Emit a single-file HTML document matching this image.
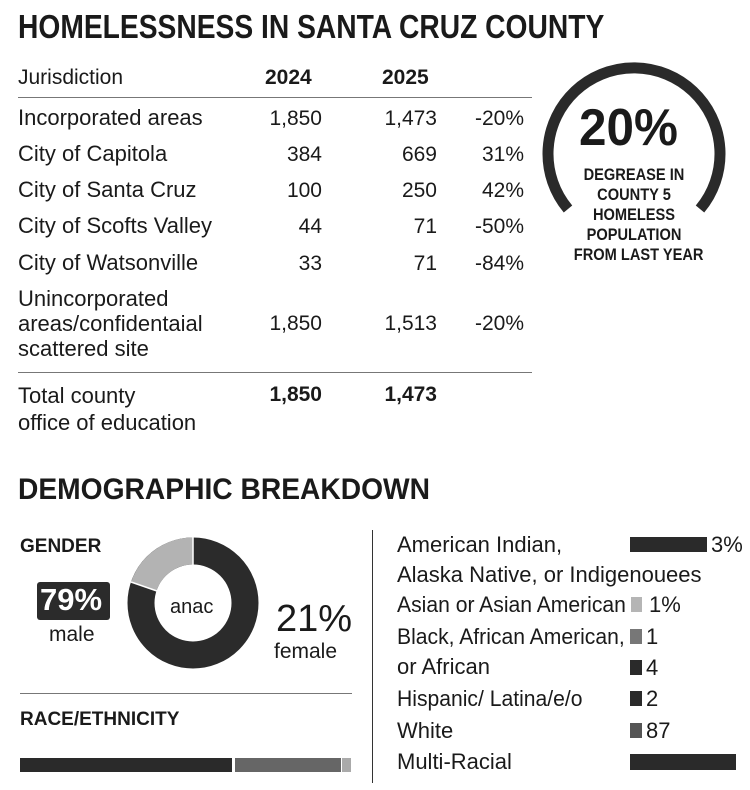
<!DOCTYPE html>
<html><head><meta charset="utf-8"><style>
body{margin:0;width:750px;height:790px;background:#fff;position:relative;overflow:hidden;font-family:"Liberation Sans",sans-serif;color:#1a1a1a}
.t{position:absolute;white-space:nowrap;line-height:1}
.h{font-family:"Liberation Sans Narrow","Liberation Sans",sans-serif;font-weight:bold}
.r{font-size:22px}
.n{position:absolute;font-size:21px;text-align:right;white-space:nowrap;line-height:1}
.b{position:absolute;background:#2a2a2a}
.s{transform:scaleX(0.96);transform-origin:0 0}
</style></head><body>
<div class="t h" style="left:18px;top:10px;font-size:33px;transform:scaleX(0.855);transform-origin:0 0">HOMELESSNESS IN SANTA CRUZ COUNTY</div>
<div class="t r" style="left:18px;top:67px;font-size:21px">Jurisdiction</div>
<div class="t r" style="left:265px;top:67px;font-weight:bold;font-size:21px">2024</div>
<div class="t r" style="left:382px;top:67px;font-weight:bold;font-size:21px">2025</div>
<div style="position:absolute;left:18px;top:97px;width:514px;height:1px;background:#777"></div>

<div class="t r" style="left:18px;top:107px">Incorporated areas</div>
<div class="n" style="right:428px;top:108px">1,850</div><div class="n" style="right:313px;top:108px">1,473</div><div class="n" style="right:226px;top:108px">-20%</div>
<div class="t r" style="left:18px;top:143px">City of Capitola</div>
<div class="n" style="right:428px;top:144px">384</div><div class="n" style="right:313px;top:144px">669</div><div class="n" style="right:226px;top:144px">31%</div>
<div class="t r" style="left:18px;top:179px">City of Santa Cruz</div>
<div class="n" style="right:428px;top:180px">100</div><div class="n" style="right:313px;top:180px">250</div><div class="n" style="right:226px;top:180px">42%</div>
<div class="t r" style="left:18px;top:215px">City of Scofts Valley</div>
<div class="n" style="right:428px;top:216px">44</div><div class="n" style="right:313px;top:216px">71</div><div class="n" style="right:226px;top:216px">-50%</div>
<div class="t r" style="left:18px;top:252px">City of Watsonville</div>
<div class="n" style="right:428px;top:253px">33</div><div class="n" style="right:313px;top:253px">71</div><div class="n" style="right:226px;top:253px">-84%</div>
<div class="t r" style="left:18px;top:286px;line-height:25px;white-space:normal">Unincorporated<br>areas/confidentaial<br>scattered site</div>
<div class="n" style="right:428px;top:313px">1,850</div><div class="n" style="right:313px;top:313px">1,513</div><div class="n" style="right:226px;top:313px">-20%</div>
<div style="position:absolute;left:18px;top:372px;width:514px;height:1px;background:#777"></div>
<div class="t r" style="left:18px;top:382px;line-height:27px">Total county<br>office of education</div>
<div class="n" style="right:428px;top:384px;font-weight:bold">1,850</div><div class="n" style="right:313px;top:384px;font-weight:bold">1,473</div>

<svg style="position:absolute;left:0;top:0" width="750" height="790">
<path d="M 568 209 A 86 86 0 1 1 700 209" fill="none" stroke="#2a2a2a" stroke-width="11"/>
<circle cx="193" cy="603" r="52" fill="none" stroke="#2b2b2b" stroke-width="27"/>
<path d="M 193 551 A 52 52 0 0 0 144 586" fill="none" stroke="#b3b3b3" stroke-width="27"/>
<line x1="193" y1="537" x2="193" y2="565" stroke="#fff" stroke-width="1.5"/>
<line x1="131" y1="582" x2="157" y2="591" stroke="#fff" stroke-width="1.5"/>
</svg>
<div class="t h" style="left:579px;top:102px;font-size:52px;transform:scaleX(0.95);transform-origin:0 0">20%</div>
<div class="t h" style="left:564px;top:165px;width:140px;text-align:center;font-size:17px;line-height:20px;transform:scaleX(0.86);transform-origin:70px 0">DEGREASE IN<br>COUNTY 5<br>HOMELESS<br>POPULATION<br>FROM LAST YEAR</div>

<div class="t h" style="left:18px;top:475px;font-size:30px;transform:scaleX(0.94);transform-origin:0 0">DEMOGRAPHIC BREAKDOWN</div>
<div class="t h" style="left:20px;top:537px;font-size:19px">GENDER</div>
<div style="position:absolute;left:37px;top:582px;width:73px;height:38px;background:#2b2b2b;border-radius:3px"></div>
<div class="t" style="left:40px;top:584px;font-size:31px;color:#fff;font-weight:bold">79%</div>
<div class="t" style="left:49px;top:624px;font-size:21px">male</div>
<div class="t" style="left:170px;top:597px;font-size:20px">anac</div>
<div class="t" style="left:276px;top:600px;font-size:38px">21%</div>
<div class="t" style="left:274px;top:641px;font-size:21px">female</div>
<div style="position:absolute;left:20px;top:693px;width:332px;height:1px;background:#777"></div>
<div class="t h" style="left:20px;top:710px;font-size:19px">RACE/ETHNICITY</div>
<div class="b" style="left:20px;top:758px;width:212px;height:14px"></div>
<div class="b" style="left:235px;top:758px;width:106px;height:14px;background:#666"></div>
<div class="b" style="left:342px;top:758px;width:9px;height:14px;background:#aaa"></div>
<div style="position:absolute;left:372px;top:530px;width:1px;height:253px;background:#333"></div>

<div class="t r" style="left:397px;top:534px">American Indian,</div>
<div class="b" style="left:630px;top:537px;width:77px;height:15px"></div><div class="t r" style="left:711px;top:534px">3%</div>
<div class="t r" style="left:397px;top:564px">Alaska Native, or Indigenouees</div>
<div class="t r s" style="left:397px;top:594px">Asian or Asian American</div>
<div class="b" style="left:631px;top:597px;width:11px;height:15px;background:#b5b5b5"></div><div class="t r" style="left:649px;top:594px">1%</div>
<div class="t r s" style="left:397px;top:626px">Black, African American,</div>
<div class="b" style="left:630px;top:629px;width:12px;height:15px;background:#777"></div><div class="t r" style="left:646px;top:626px">1</div>
<div class="t r" style="left:397px;top:656px">or African</div>
<div class="b" style="left:630px;top:660px;width:12px;height:15px"></div><div class="t r" style="left:646px;top:657px">4</div>
<div class="t r s" style="left:397px;top:688px">Hispanic/ Latina/e/o</div>
<div class="b" style="left:630px;top:691px;width:12px;height:15px"></div><div class="t r" style="left:646px;top:688px">2</div>
<div class="t r" style="left:397px;top:720px">White</div>
<div class="b" style="left:630px;top:723px;width:12px;height:15px;background:#555"></div><div class="t r" style="left:646px;top:720px">87</div>
<div class="t r" style="left:397px;top:751px">Multi-Racial</div>
<div class="b" style="left:630px;top:754px;width:106px;height:16px"></div>
</body></html>
